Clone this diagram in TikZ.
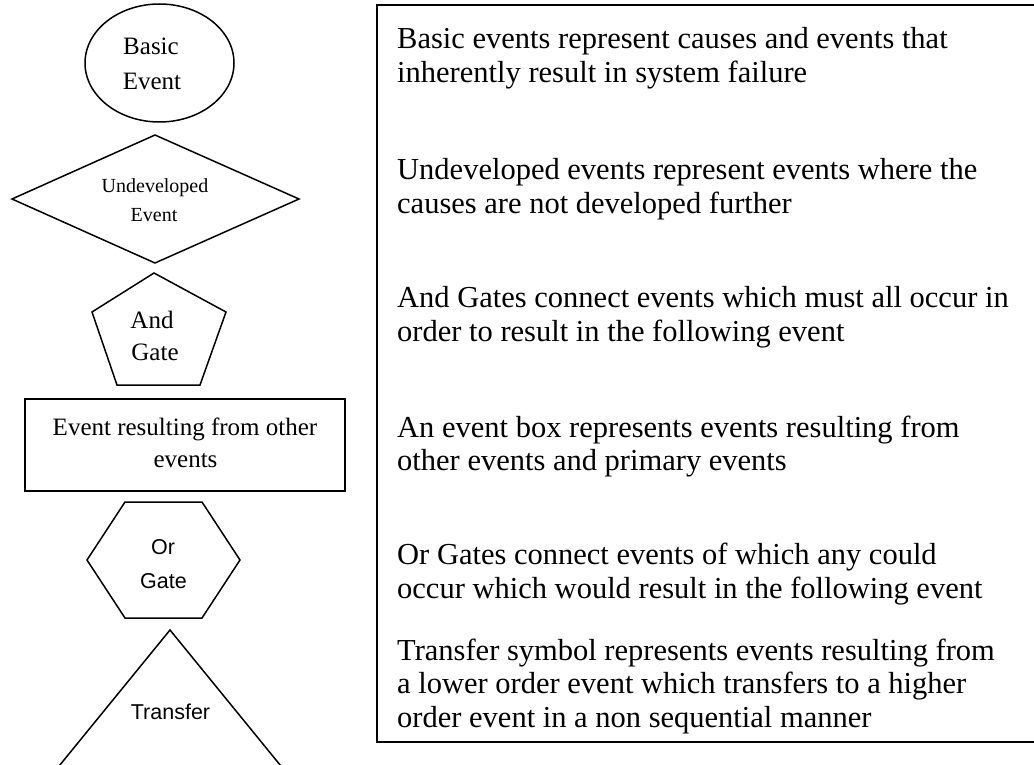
\documentclass[tikz,border=0pt]{standalone}
\usepackage{fontspec}
\setmainfont{Liberation Serif}
\newfontfamily\arialfont{Liberation Sans}
\begin{document}
\begin{tikzpicture}[x=1pt,y=-1pt,
  outline/.style={draw=black, line width=1.5pt, line join=miter},
  lblserif/.style={inner sep=0, anchor=base, font=\fontsize{25}{30}\selectfont},
  lblsmall/.style={inner sep=0, anchor=base, font=\fontsize{20}{24}\selectfont},
  lblsans/.style={inner sep=0, anchor=base, font=\arialfont\fontsize{21.5}{26}\selectfont},
  desc/.style={inner sep=0, anchor=base west, font=\fontsize{30.5}{34}\selectfont}]
\useasboundingbox (0,0) rectangle (1034,765);
\clip (0,0) rectangle (1034,765);
% shapes
\draw[outline] (159.5,63) ellipse [x radius=74.5pt, y radius=59pt];
\draw[outline] (12,199) -- (155,135) -- (299,199) -- (155,263) -- cycle;
\draw[outline] (154,273) -- (226,312) -- (200,385) -- (117,385) -- (92,312) -- cycle;
\draw[outline] (25,399) rectangle (345,491);
\draw[outline] (125,502) -- (202,502) -- (240,560) -- (202,618) -- (125,618) -- (87,560) -- cycle;
\draw[outline] (55,771) -- (170,630) -- (285,771);
\draw[outline] (1040,5) -- (377,5) -- (377,742) -- (1040,742);
% left labels
\node[lblserif] (b1) at (151,55) {Basic};
\node[lblserif] (b2) at (152,90) {Event};
\node[lblsmall] (u1) at (155,193) {Undeveloped};
\node[lblsmall] (u2) at (154,222) {Event};
\node[lblserif] (a1) at (152,328) {And};
\node[lblserif] (a2) at (155,360) {Gate};
\node[lblserif] (e1) at (185,435) {Event resulting from other};
\node[lblserif] (e2) at (185.5,467) {events};
\node[lblsans] (o1) at (163,554) {Or};
\node[lblsans] (o2) at (163.5,588) {Gate};
\node[lblsans] (t1) at (170.5,719) {Transfer};
% descriptions
\node[desc] (d11) at (397,49) {Basic events represent causes and events that};
\node[desc] (d12) at (397,83) {inherently result in system failure};
\node[desc] (d21) at (397,179) {Undeveloped events represent events where the};
\node[desc] (d22) at (397,213) {causes are not developed further};
\node[desc] (d31) at (397,307) {And Gates connect events which must all occur in};
\node[desc] (d32) at (397,341) {order to result in the following event};
\node[desc] (d41) at (397,437) {An event box represents events resulting from};
\node[desc] (d42) at (397,470) {other events and primary events};
\node[desc] (d51) at (397,564) {Or Gates connect events of which any could};
\node[desc] (d52) at (397,598) {occur which would result in the following event};
\node[desc] (d61) at (397,660) {Transfer symbol represents events resulting from};
\node[desc] (d62) at (397,693) {a lower order event which transfers to a higher};
\node[desc] (d63) at (397,727) {order event in a non sequential manner};
\end{tikzpicture}
\end{document}
